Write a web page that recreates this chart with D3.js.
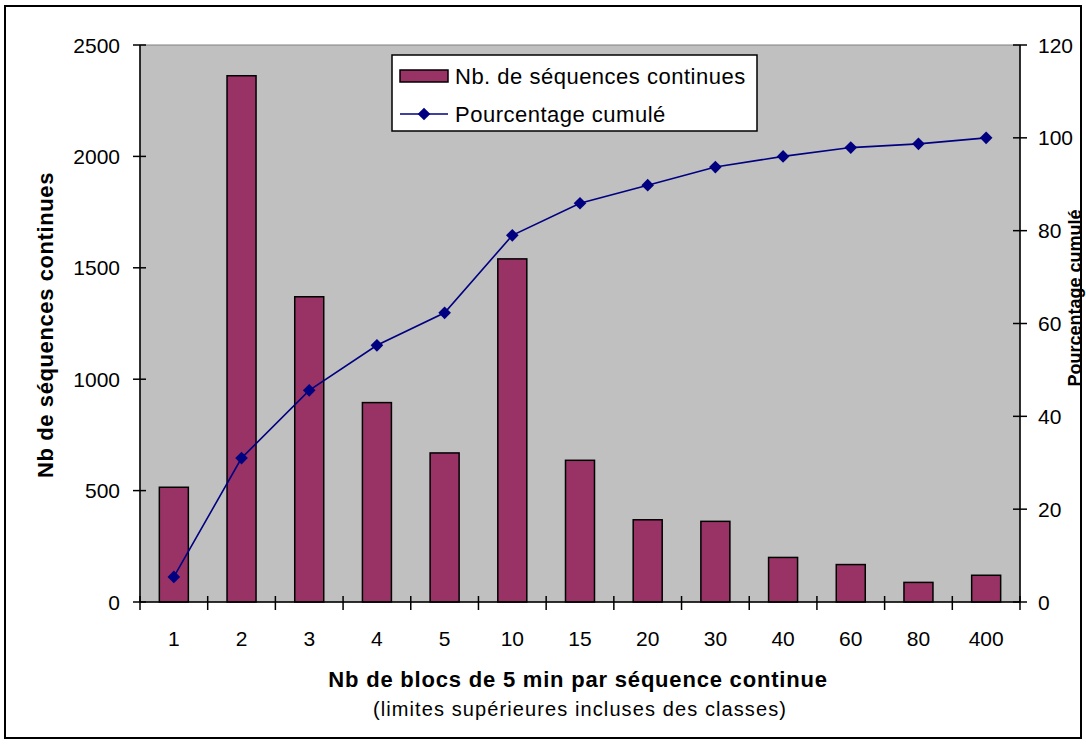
<!DOCTYPE html>
<html><head><meta charset="utf-8">
<script src="https://cdn.jsdelivr.net/npm/d3@7"></script>
<style>body{margin:0;background:#fff}svg{display:block;font-family:"Liberation Sans",Arial,sans-serif}</style>
</head><body><svg id="c" width="1086" height="744"></svg>
<script>
const categories = ["1","2","3","4","5","10","15","20","30","40","60","80","400"];
const counts = [515,2362,1370,895,669,1540,636,369,362,200,168,88,120];
const cumulPct = [5.4,31.0,45.6,55.3,62.3,79.0,85.9,89.8,93.7,96.0,97.9,98.7,100];
const leftTicks = [0,500,1000,1500,2000,2500];
const rightTicks = [0,20,40,60,80,100,120];
const seriesNames = ["Nb. de séquences continues","Pourcentage cumulé"];

const svg = d3.select("#c");
const L=140,R=1020,T=45,B=602;
svg.append("rect").attr("x",5).attr("y",6).attr("width",1076).attr("height",732).attr("fill","#fff").attr("stroke","#000").attr("stroke-width",2);
svg.append("rect").attr("x",L).attr("y",T).attr("width",R-L).attr("height",B-T).attr("fill","#c0c0c0").attr("stroke","#808080").attr("stroke-width",1);

const xb = d3.scaleBand().domain(categories).range([L,R]);
const y = d3.scaleLinear().domain([0,2500]).range([B,T]);
const y2 = d3.scaleLinear().domain([0,120]).range([B,T]);
const cx = c => xb(c)+xb.bandwidth()/2;

svg.append("g").selectAll("rect").data(counts).join("rect")
  .attr("x",(d,i)=>cx(categories[i])-14.5).attr("width",29)
  .attr("y",d=>y(d)).attr("height",d=>B-y(d))
  .attr("fill","#993366").attr("stroke","#000").attr("stroke-width",1.5);

const line = d3.line().x((d,i)=>cx(categories[i])).y(d=>y2(d));
svg.append("path").datum(cumulPct).attr("d",line).attr("fill","none").attr("stroke","#000080").attr("stroke-width",1.6);
const marker = d3.symbol().type(d3.symbolSquare).size(80);
svg.append("g").selectAll("path").data(cumulPct).join("path")
  .attr("d",marker).attr("transform",(d,i)=>`translate(${cx(categories[i])},${y2(d)}) rotate(45)`)
  .attr("fill","#000080");

// axes
const fs = "21px";
const ax = svg.append("g").attr("stroke","#000").attr("stroke-width",1.5);
ax.append("line").attr("x1",L).attr("x2",L).attr("y1",T).attr("y2",B);
ax.append("line").attr("x1",R).attr("x2",R).attr("y1",T).attr("y2",B);
ax.append("line").attr("x1",L).attr("x2",R).attr("y1",B).attr("y2",B);
ax.selectAll(".lt").data(leftTicks).join("line").attr("x1",L-7).attr("x2",L+6).attr("y1",d=>y(d)).attr("y2",d=>y(d));
ax.selectAll(".rt").data(rightTicks).join("line").attr("x1",R-7).attr("x2",R+7).attr("y1",d=>y2(d)).attr("y2",d=>y2(d));
const xt = categories.map(c=>xb(c)).concat([R]);
ax.selectAll(".xt").data(xt).join("line").attr("x1",d=>d).attr("x2",d=>d).attr("y1",B-6).attr("y2",B+8);

svg.append("g").selectAll("text").data(leftTicks).join("text").attr("x",120).attr("y",d=>y(d)).attr("dy","0.36em")
  .attr("text-anchor","end").attr("font-size",fs).text(d=>d);
svg.append("g").selectAll("text").data(rightTicks).join("text").attr("x",1038).attr("y",d=>y2(d)).attr("dy","0.36em")
  .attr("font-size",fs).text(d=>d);
svg.append("g").selectAll("text").data(categories).join("text").attr("x",d=>cx(d)).attr("y",638).attr("dy","0.36em")
  .attr("text-anchor","middle").attr("font-size",fs).text(d=>d);

// titles
svg.append("text").attr("x",578).attr("y",679).attr("dy","0.36em").attr("text-anchor","middle").attr("font-size","22px").attr("letter-spacing","0.8px").attr("font-weight","bold").text("Nb de blocs de 5 min par séquence continue");
svg.append("text").attr("x",580).attr("y",709).attr("dy","0.36em").attr("text-anchor","middle").attr("font-size","20px").attr("letter-spacing","1.1px").text("(limites supérieures incluses des classes)");
svg.append("text").attr("transform","translate(45,325) rotate(-90)").attr("dy","0.36em").attr("text-anchor","middle").attr("font-size","22px").attr("letter-spacing","0.6px").attr("font-weight","bold").text("Nb de séquences continues");
svg.append("text").attr("transform","translate(1075,298) rotate(-90)").attr("dy","0.36em").attr("text-anchor","middle").attr("font-size","18px").attr("font-weight","bold").text("Pourcentage cumulé");

// legend
const lg = svg.append("g");
lg.append("rect").attr("x",392).attr("y",55).attr("width",365).attr("height",76).attr("fill","#fff").attr("stroke","#000").attr("stroke-width",1.5);
lg.append("rect").attr("x",400).attr("y",70).attr("width",48).attr("height",12).attr("fill","#993366").attr("stroke","#000").attr("stroke-width",1.5);
lg.append("line").attr("x1",400).attr("x2",448).attr("y1",114).attr("y2",114).attr("stroke","#000080").attr("stroke-width",1.6);
lg.append("path").attr("d",marker).attr("transform","translate(424,114) rotate(45)").attr("fill","#000080");
lg.append("text").attr("x",455).attr("y",76).attr("dy","0.36em").attr("font-size","22px").attr("letter-spacing","0.5px").text(seriesNames[0]);
lg.append("text").attr("x",455).attr("y",114).attr("dy","0.36em").attr("font-size","22px").attr("letter-spacing","0.5px").text(seriesNames[1]);
</script></body></html>
